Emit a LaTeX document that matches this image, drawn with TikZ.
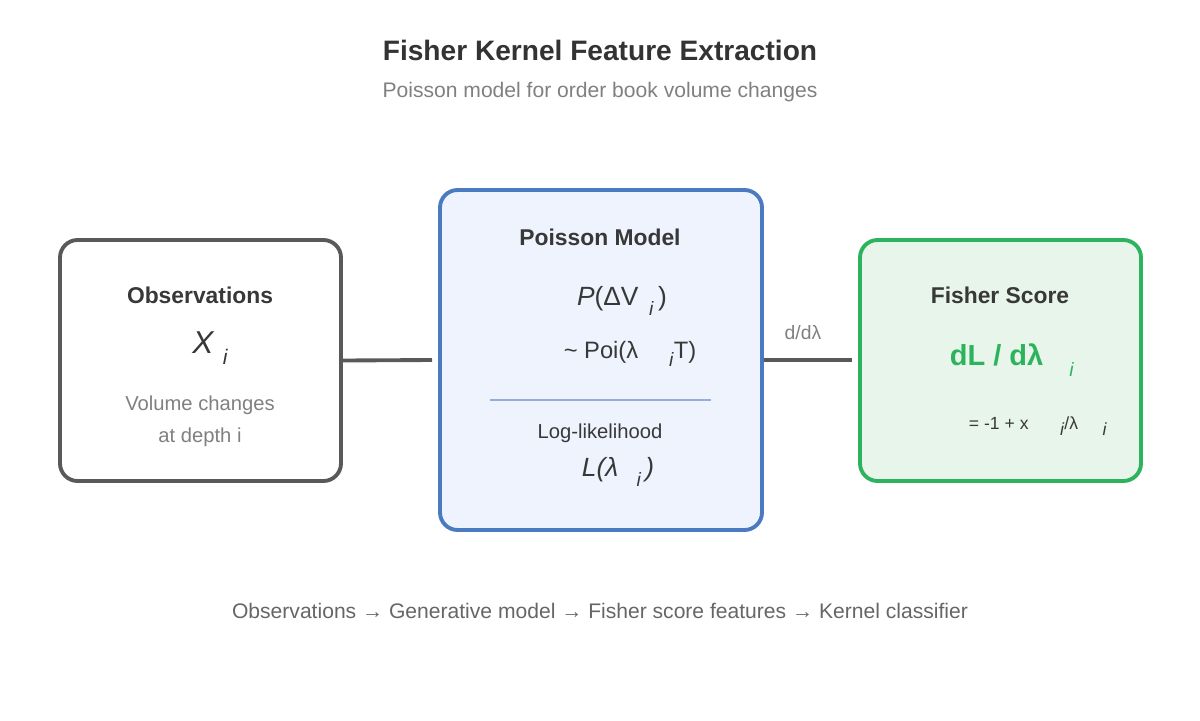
\documentclass[tikz,border=0pt]{standalone}
\usepackage{fontspec}
\setmainfont{Liberation Sans}
\begin{document}
\begin{tikzpicture}[x=0.02cm,y=-0.02cm,
  box/.style={draw,line width=2.2pt,rounded corners=10pt},
  t/.style={text=black!78},
  g/.style={text=black!50},
  conn/.style={draw=black!65,line width=2.2pt}]
\useasboundingbox (0,0) rectangle (1200,720);
\definecolor{bl}{HTML}{4A7ABF}\definecolor{blf}{HTML}{EEF3FD}
\definecolor{gr}{HTML}{2DB35D}\definecolor{grf}{HTML}{E8F5EA}
\node[font=\bfseries\fontsize{16}{19}\selectfont,text=black!80] (title) at (600,50) {Fisher Kernel Feature Extraction};
\node[g,font=\fontsize{12}{15}\selectfont] (sub) at (600,92) {Poisson model for order book volume changes};
\node[box,draw=black!65,fill=white,minimum width=281*0.02cm,minimum height=241*0.02cm] (obs) at (200.5,360.5) {};
\node[box,draw=bl,fill=blf,minimum width=322*0.02cm,minimum height=340*0.02cm] (poi) at (601,360) {};
\node[box,draw=gr,fill=grf,minimum width=281*0.02cm,minimum height=241*0.02cm] (fis) at (1000.5,360.5) {};
\coordinate (c1) at (432,360); \coordinate (c2) at (852,360);
\draw[conn] (obs.east) -- (c1);
\draw[conn] (poi.east) -- (c2);
\node[g,font=\fontsize{11}{13}\selectfont] (dd) at (803,333) {d/dλ};
\node[t,font=\bfseries\fontsize{13}{16}\selectfont] (ot) at (200,295) {Observations};
\node[t,font=\itshape\fontsize{18}{21}\selectfont] (x) at (210,348) {X\hspace{0.3em}\raisebox{-0.7ex}{\fontsize{12}{14}\selectfont i}};
\node[g,align=center,font=\fontsize{11.5}{18}\selectfont] (vc) at (200,421) {Volume changes\\at depth i};
\node[t,font=\bfseries\fontsize{13}{16}\selectfont] (pt) at (600,237) {Poisson Model};
\node[t,font=\fontsize{15}{18}\selectfont] (p1) at (622,301) {\textit{P}(ΔV\hspace{0.4em}\raisebox{-0.7ex}{\fontsize{11}{13}\selectfont\textit{i}}\,)};
\node[t,font=\fontsize{13.5}{16}\selectfont] (p2) at (630,354) {\textasciitilde{} Poi(λ\hspace{1.3em}\raisebox{-0.6ex}{\fontsize{11}{13}\selectfont\textit{i}}T)};
\coordinate (l1) at (490,400); \coordinate (l2) at (711,400);
\draw[draw=bl!60,line width=1.5pt] (l1) -- (l2);
\node[t,font=\fontsize{11.5}{14}\selectfont] (ll) at (600,433) {Log-likelihood};
\node[t,font=\itshape\fontsize{15}{18}\selectfont] (lf) at (618,472) {L(λ\hspace{0.7em}\raisebox{-0.7ex}{\fontsize{11}{13}\selectfont i}\,)};
\node[t,font=\bfseries\fontsize{13}{16}\selectfont] (fst) at (1000,295) {Fisher Score};
\node[text=gr,font=\bfseries\fontsize{16.5}{20}\selectfont] (dl) at (1012,360) {dL / dλ\hspace{0.9em}\raisebox{-0.7ex}{\fontsize{11}{13}\selectfont\normalfont\textit{i}}};
\node[t,font=\fontsize{10}{12}\selectfont] (fx) at (1038,426) {= -1 + x\hspace{1.8em}\raisebox{-0.7ex}{\textit{i}}/λ\hspace{1.4em}\raisebox{-0.7ex}{\textit{i}}};
\node[font=\fontsize{12}{15}\selectfont,text=black!60] (bot) at (600,611) {Observations → Generative model → Fisher score features → Kernel classifier};
\end{tikzpicture}
\end{document}
